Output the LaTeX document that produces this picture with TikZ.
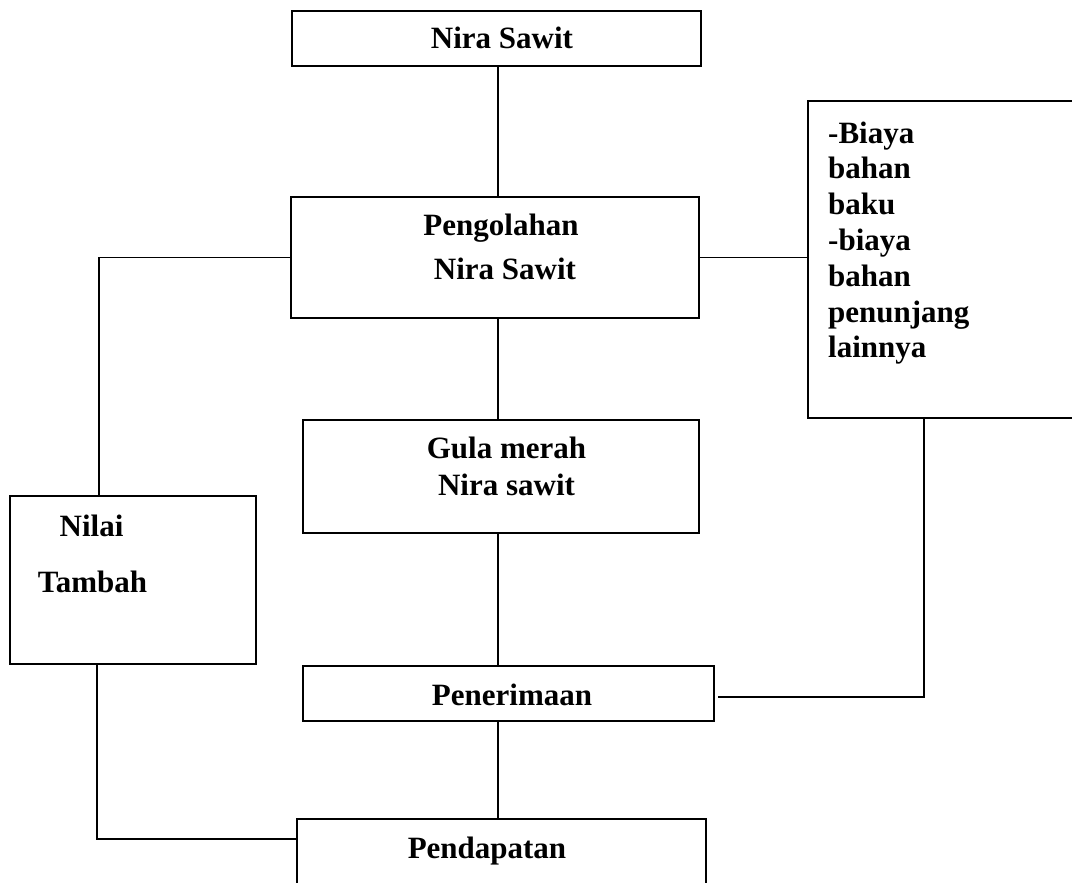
\documentclass[tikz,border=0pt]{standalone}
\usepackage{fontspec}
\setmainfont{Liberation Serif}
\begin{document}
\begin{tikzpicture}[x=1pt,y=-1pt,
  box/.style={draw,line width=1.9pt,inner sep=0pt,anchor=center},
  txt/.style={inner sep=0pt,anchor=base,font=\fontsize{31}{36}\selectfont\bfseries},
  ltxt/.style={txt,anchor=base west},
  conn/.style={line width=1.9pt}]
\useasboundingbox (0,0) rectangle (1072,883);
\clip (0,0) rectangle (1072,883);
\fill[white] (0,0) rectangle (1072,883);
% boxes
\node[box,minimum width=409pt,minimum height=55pt] (nira) at (496.5,38.5) {};
\node[box,minimum width=408pt,minimum height=121pt] (olah) at (495,257.5) {};
\node[box,minimum width=292pt,minimum height=317pt] (biaya) at (954,259.5) {};
\node[box,minimum width=396pt,minimum height=113pt] (gula) at (501,476.5) {};
\node[box,minimum width=246pt,minimum height=168pt] (nilai) at (133,580) {};
\node[box,minimum width=411pt,minimum height=55pt] (terima) at (508.5,693.5) {};
\node[box,minimum width=409pt,minimum height=101pt] (dapat) at (501.5,869.5) {};
% texts
\node[txt] (tnira) at (502,49) {Nira Sawit};
\node[txt] (tolah1) at (501,235) {Pengolahan};
\node[txt] (tolah2) at (505,279) {Nira Sawit};
\node[txt] (tgula1) at (506.5,458) {Gula merah};
\node[txt] (tgula2) at (506.5,495) {Nira sawit};
\node[txt] (tnilai1) at (91.5,536) {Nilai};
\node[txt] (tnilai2) at (92.5,592) {Tambah};
\node[txt] (tterima) at (512,705) {Penerimaan};
\node[txt] (tdapat) at (487,858) {Pendapatan};
\foreach \t [count=\i] in {-Biaya,bahan,baku,-biaya,bahan,penunjang,lainnya}
  \node[ltxt] (tb\i) at (828,{143+35.8*(\i-1)}) {\t};
% helper coordinates
\coordinate (cx) at (498,0);
\coordinate (lx) at (99,0);
\coordinate (rb) at (924,697);
\coordinate (lb) at (97,839);
% connectors
\draw[conn] (nira.south -| cx) -- (olah.north -| cx);
\draw[conn] (olah.south -| cx) -- (gula.north -| cx);
\draw[conn] (gula.south -| cx) -- (terima.north -| cx);
\draw[conn] (terima.south -| cx) -- (dapat.north -| cx);
\draw[conn] (olah.west) -| (lx |- nilai.north);
\draw[conn] (olah.east) -- (olah.east -| biaya.west);
\draw[conn] (biaya.south -| rb) -- (rb) -- ([xshift=3pt]terima.east |- rb);
\draw[conn] (lb |- nilai.south) -- (lb) -- (dapat.west |- lb);
\end{tikzpicture}
\end{document}
